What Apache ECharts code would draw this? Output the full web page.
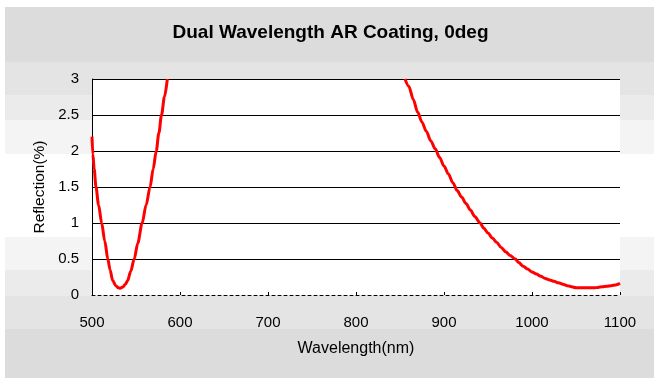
<!DOCTYPE html>
<html>
<head>
<meta charset="utf-8">
<script src="https://cdn.jsdelivr.net/npm/echarts@6/dist/echarts.min.js"></script>
<style>
html,body{margin:0;padding:0;background:#fff;}
#bg{position:absolute;left:5px;top:7px;width:649px;height:371px;
background:linear-gradient(to bottom,#dcdcdc 0px,#dcdcdc 55px,#e4e4e4 55px,#e4e4e4 88px,#ebebeb 88px,#ebebeb 113px,#f4f4f4 113px,#f4f4f4 147px,#ffffff 147px,#ffffff 230px,#f4f4f4 230px,#f4f4f4 263px,#ebebeb 263px,#ebebeb 289px,#e4e4e4 289px,#e4e4e4 322px,#dcdcdc 322px,#dcdcdc 371px);}
#chart{position:absolute;left:0;top:0;width:661px;height:387px;}
</style>
</head>
<body>
<div id="bg"></div>
<div id="chart"></div>
<script>
// Reflection (%) vs wavelength (nm), short-wavelength band
const bandA = [
  [500, 2.2], [501, 1.95], [502.5, 1.75], [504.5, 1.5], [507.5, 1.25], [511, 1.0],
  [514.5, 0.75], [518, 0.5], [520.5, 0.35], [523.5, 0.2], [527, 0.13], [530, 0.1],
  [532, 0.095], [535, 0.11], [538, 0.15], [540.5, 0.2], [544, 0.33], [548, 0.5],
  [552, 0.72], [557, 1.0], [561.5, 1.25], [566, 1.5], [569.5, 1.75], [573, 2.0],
  [576, 2.25], [579, 2.5], [582.3, 2.75], [585.6, 3.0]
];
// long-wavelength band
const bandB = [
  [855.7, 3.0], [860, 2.9], [865, 2.72], [870, 2.54], [875, 2.4], [880, 2.27],
  [885, 2.14], [890, 2.03], [895, 1.91], [900, 1.79], [905, 1.68], [910, 1.56],
  [915, 1.45], [920, 1.36], [925, 1.27], [930, 1.18], [935, 1.09], [941, 1.0],
  [945, 0.93], [950, 0.86], [955, 0.79], [960, 0.73], [965, 0.66], [970, 0.6],
  [975, 0.55], [981, 0.5], [985, 0.45], [990, 0.4], [995, 0.36], [1000, 0.32],
  [1005, 0.29], [1010, 0.26], [1015, 0.23], [1020, 0.21], [1025, 0.19],
  [1030, 0.17], [1035, 0.15], [1040, 0.13], [1045, 0.115], [1050, 0.1],
  [1060, 0.1], [1070, 0.1], [1075, 0.105], [1080, 0.115], [1085, 0.12],
  [1090, 0.13], [1095, 0.14], [1100, 0.16]
];
const titleText = 'Dual Wavelength AR Coating, 0deg';
const xName = 'Wavelength(nm)';
const yName = 'Reflection(%)';

const FONT = '"Liberation Sans", Arial, sans-serif';
const chart = echarts.init(document.getElementById('chart'), null, {renderer: 'canvas'});
const lineStyle = {color: '#ff0000', width: 3};
chart.setOption({
  backgroundColor: 'transparent',
  animation: false,
  title: {
    text: titleText, left: 'center', top: 18,
    textStyle: {fontFamily: FONT, fontSize: 19, fontWeight: 'bold', color: '#000'}
  },
  grid: {
    left: 92, right: 41, top: 79, bottom: 92,
    show: true, backgroundColor: '#ffffff', borderWidth: 0,
    outerBoundsMode: 'none', containLabel: false
  },
  xAxis: {
    type: 'value', min: 500, max: 1100, interval: 100,
    name: xName, nameLocation: 'middle', nameGap: 46,
    nameTextStyle: {fontFamily: FONT, fontSize: 16, color: '#000'},
    axisLine: {show: true, onZero: false, lineStyle: {color: '#000', width: 1, type: [3, 3]}},
    axisTick: {show: true, inside: true, length: 3, lineStyle: {color: '#000'}},
    axisLabel: {margin: 20, fontFamily: FONT, fontSize: 15, color: '#000', formatter: function (v) { return String(v); }},
    splitLine: {show: false}
  },
  yAxis: {
    type: 'value', min: 0, max: 3, interval: 0.5,
    name: yName, nameLocation: 'middle', nameGap: 43, nameRotate: 90,
    nameTextStyle: {fontFamily: FONT, fontSize: 15.5, color: '#000'},
    axisLine: {show: true, lineStyle: {color: '#000', width: 1}},
    axisTick: {show: false},
    axisLabel: {margin: 13, fontFamily: FONT, fontSize: 15, color: '#000'},
    splitLine: {show: true, lineStyle: {color: ['rgba(0,0,0,0)', '#000', '#000', '#000', '#000', '#000', '#000'], width: 1}}
  },
  series: [
    {type: 'line', data: bandA, showSymbol: false, smooth: 0.3, smoothMonotone: 'x', clip: true, lineStyle: lineStyle, z: 3},
    {type: 'line', data: bandB, showSymbol: false, smooth: 0.3, smoothMonotone: 'x', clip: true, lineStyle: lineStyle, z: 3}
  ]
});
</script>
</body>
</html>
